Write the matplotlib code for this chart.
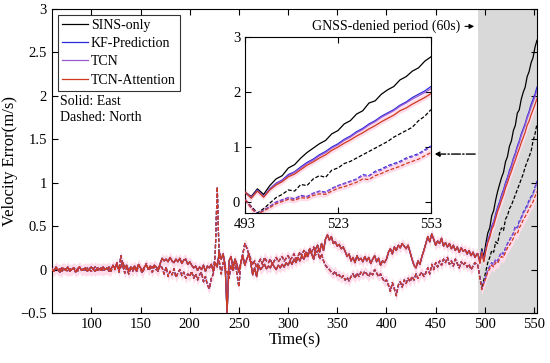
import numpy as np
import matplotlib
matplotlib.use('Agg')
import matplotlib.pyplot as plt
from matplotlib.ticker import FuncFormatter

plt.rcParams['font.family'] = ['Liberation Serif', 'DejaVu Serif']

# GNSS available (60 s .. 492 s, every 2 s): all methods share the same error
east_pre = [0.01, -0.02, 0.03, 0.00, -0.03, 0.02, 0.01, -0.01, 0.03, -0.02,
            0.00, 0.02, -0.03, 0.01, 0.03, -0.01, 0.00, 0.02, -0.02, 0.01,
            0.03, 0.00, -0.02, 0.02, 0.01, -0.01, 0.03, 0.00, 0.02, -0.02,
            0.01, 0.04, 0.02, 0.06, 0.00, 0.03, 0.08, 0.02, 0.05, -0.02,
            0.03, 0.01, 0.04, 0.00, 0.06, 0.02, -0.01, 0.03, 0.05, 0.01,
            0.04, 0.02, 0.05, 0.03, 0.00, 0.07, 0.13, 0.10, 0.12, 0.09,
            0.14, 0.10, 0.08, 0.12, 0.09, 0.13, 0.07, 0.11, 0.12, 0.06,
            0.09, 0.05, 0.02, 0.04, -0.01, 0.03, 0.00, 0.05, -0.02, 0.04,
            0.02, 0.06, -0.02, 0.08, 0.03, 0.20, 0.12, 0.18, 0.05, -0.50,
            0.10, 0.15, 0.02, 0.12, 0.06, -0.03, 0.08, 0.16, 0.05, 0.12,
            0.18, 0.08, -0.06, 0.02, -0.08, 0.05, 0.00, 0.03, 0.06, 0.01,
            0.04, 0.02, 0.07, 0.03, 0.00, 0.05, 0.02, 0.06, 0.03, 0.08,
            0.05, 0.10, 0.06, 0.12, 0.08, 0.14, 0.10, 0.16, 0.12, 0.20,
            0.15, 0.22, 0.18, 0.12, 0.24, 0.28, 0.20, 0.30, 0.22, 0.35,
            0.40, 0.34, 0.38, 0.30, 0.32, 0.27, 0.29, 0.24, 0.26, 0.21,
            0.15, 0.18, 0.10, 0.14, 0.08, 0.16, 0.11, 0.13, 0.09, 0.15,
            0.10, 0.14, 0.07, 0.12, 0.16, 0.09, 0.13, 0.05, 0.10, 0.08,
            0.12, 0.20, 0.24, 0.18, 0.26, 0.22, 0.28, 0.25, 0.30, 0.27,
            0.24, 0.28, 0.20, 0.12, 0.05, 0.02, 0.10, 0.06, 0.15, 0.22,
            0.30, 0.38, 0.32, 0.41, 0.35, 0.28, 0.33, 0.30, 0.36, 0.27,
            0.31, 0.26, 0.30, 0.24, 0.28, 0.22, 0.26, 0.20, 0.25, 0.21,
            0.23, 0.18, 0.22, 0.16, 0.20, 0.14, 0.18]
north_pre = [0.00, -0.02, 0.02, -0.01, 0.01, -0.03, 0.02, 0.00, -0.02, 0.01,
             -0.01, 0.02, 0.00, -0.02, 0.03, -0.01, 0.01, -0.02, 0.02, 0.00,
             -0.02, 0.01, 0.03, -0.01, 0.00, 0.02, -0.02, 0.01, 0.00, 0.03,
             -0.02, 0.05, 0.00, 0.08, -0.03, 0.16, 0.04, -0.04, 0.02, -0.05,
             0.01, -0.02, 0.03, -0.03, 0.05, 0.00, -0.04, 0.02, 0.07, -0.01,
             0.02, -0.03, 0.04, 0.00, -0.02, 0.05, 0.02, -0.05, 0.03, -0.08,
             -0.02, -0.06, 0.01, -0.09, -0.04, 0.00, -0.07, -0.03, -0.10, -0.05,
             -0.08, -0.02, -0.10, -0.05, -0.12, -0.06, -0.03, -0.14, -0.08, -0.18,
             -0.22, -0.10, -0.05, 0.20, 0.95, 0.10, -0.05, 0.08, 0.02, -0.03,
             -0.10, 0.05, -0.02, 0.08, -0.05, -0.20, 0.10, 0.18, 0.30, 0.25,
             0.18, 0.12, 0.05, 0.10, 0.02, 0.08, 0.12, 0.06, 0.14, 0.10,
             0.08, 0.12, 0.06, 0.10, 0.14, 0.09, 0.12, 0.15, 0.10, 0.13,
             0.16, 0.11, 0.14, 0.18, 0.12, 0.15, 0.20, 0.16, 0.22, 0.14,
             0.18, 0.24, 0.20, 0.26, 0.17, 0.22, 0.12, 0.18, 0.10, 0.05,
             0.02, 0.00, -0.03, -0.05, -0.02, -0.08, -0.06, -0.10, -0.07, -0.12,
             -0.09, -0.13, -0.08, -0.05, -0.10, -0.04, -0.08, -0.03, -0.06, -0.02,
             -0.05, -0.08, -0.03, -0.06, 0.00, -0.04, -0.08, -0.05, -0.10, -0.14,
             -0.12, -0.18, -0.25, -0.15, -0.22, -0.30, -0.18, -0.14, -0.20, -0.12,
             -0.16, -0.10, -0.14, -0.08, -0.12, -0.05, -0.10, -0.06, -0.03, -0.08,
             -0.04, 0.02, -0.05, 0.06, 0.00, 0.08, 0.03, 0.10, 0.05, 0.12,
             0.08, 0.14, 0.06, 0.10, 0.04, 0.12, 0.07, 0.02, 0.09, 0.05,
             0.08, 0.03, 0.06, 0.00, 0.04, 0.08, 0.05]

# GNSS-denied period (493 s .. 553 s, every 2 s)
sins_east = [0.18, 0.10, 0.24, 0.14, 0.30, 0.42, 0.48, 0.62, 0.68, 0.80,
             0.90, 0.98, 1.06, 1.12, 1.24, 1.30, 1.42, 1.48, 1.60, 1.66,
             1.80, 1.84, 1.96, 2.04, 2.10, 2.22, 2.28, 2.38, 2.44, 2.56, 2.64]
kf_east = [0.18, 0.08, 0.22, 0.10, 0.24, 0.34, 0.40, 0.50, 0.55, 0.64,
           0.72, 0.78, 0.86, 0.92, 1.00, 1.06, 1.14, 1.20, 1.28, 1.34,
           1.42, 1.48, 1.56, 1.62, 1.68, 1.76, 1.82, 1.90, 1.96, 2.02, 2.10]
tcn_east = [0.18, 0.08, 0.21, 0.10, 0.23, 0.33, 0.39, 0.48, 0.54, 0.62,
            0.70, 0.76, 0.84, 0.90, 0.98, 1.04, 1.12, 1.18, 1.26, 1.32,
            1.40, 1.46, 1.54, 1.60, 1.66, 1.74, 1.80, 1.87, 1.93, 1.99, 2.06]
att_east = [0.18, 0.07, 0.20, 0.09, 0.22, 0.31, 0.37, 0.46, 0.51, 0.59,
            0.67, 0.73, 0.80, 0.86, 0.94, 1.00, 1.07, 1.13, 1.20, 1.26,
            1.33, 1.39, 1.46, 1.52, 1.58, 1.66, 1.71, 1.78, 1.84, 1.90, 1.97]
sins_north = [0.05, -0.08, -0.20, -0.12, -0.02, 0.08, 0.14, 0.22, 0.20, 0.32,
              0.30, 0.42, 0.48, 0.45, 0.58, 0.62, 0.70, 0.74, 0.80, 0.86,
              0.92, 0.98, 1.04, 1.10, 1.18, 1.24, 1.30, 1.36, 1.48, 1.56, 1.68]
kf_north = [0.05, -0.10, -0.22, -0.15, -0.08, 0.00, 0.04, 0.08, 0.06, 0.12,
            0.10, 0.16, 0.20, 0.18, 0.25, 0.30, 0.34, 0.38, 0.42, 0.50,
            0.48, 0.56, 0.60, 0.66, 0.70, 0.74, 0.80, 0.84, 0.88, 0.95, 1.02]
tcn_north = [0.05, -0.10, -0.22, -0.15, -0.09, -0.01, 0.03, 0.07, 0.05, 0.11,
             0.09, 0.15, 0.19, 0.17, 0.24, 0.29, 0.33, 0.37, 0.41, 0.48,
             0.47, 0.54, 0.58, 0.64, 0.68, 0.72, 0.78, 0.82, 0.86, 0.93, 1.00]
att_north = [0.05, -0.11, -0.23, -0.16, -0.10, -0.03, 0.01, 0.05, 0.03, 0.08,
             0.07, 0.12, 0.15, 0.14, 0.20, 0.25, 0.28, 0.32, 0.36, 0.42,
             0.41, 0.48, 0.52, 0.57, 0.61, 0.65, 0.70, 0.74, 0.78, 0.84, 0.90]

labels = ['SINS-only', 'KF-Prediction', 'TCN', 'TCN-Attention']
colors = ['#000000', '#2a2ad8', '#9a5ad6', '#cf3a1e']

t_pre = 60 + 2 * np.arange(len(east_pre))
t_out = 493 + 2 * np.arange(len(sins_east))
t = np.concatenate([t_pre, t_out])
east = [np.concatenate([east_pre, s]) for s in (sins_east, kf_east, tcn_east, att_east)]
north = [np.concatenate([north_pre, s]) for s in (sins_north, kf_north, tcn_north, att_north)]

fig = plt.figure(figsize=(5.5, 3.63), dpi=100)
ax = fig.add_axes([0.0945, 0.1377, 0.8818, 0.8375])
fmt = FuncFormatter(lambda v, p: ('%g' % v).replace('-', '\u2212'))


def draw(a):
    a.fill_between(t, east[3] - 0.06, east[3] + 0.06, color='#ffdcea', lw=0, zorder=1)
    a.fill_between(t, north[3] - 0.06, north[3] + 0.06, color='#ffdcea', lw=0, zorder=1)
    for i in range(4):
        a.plot(t, north[i], '--', color=colors[i], lw=0.9, dashes=(3, 1.5), zorder=2 + i)
        a.plot(t, east[i], '-', color=colors[i], lw=0.9, label=labels[i], zorder=2.5 + i)


ax.axvspan(493, 553, color='#d9d9d9', lw=0, zorder=0)
draw(ax)
ax.set_xlim(60, 553)
ax.set_ylim(-0.5, 3)
ax.set_xticks(np.arange(100, 551, 50))
ax.set_yticks(np.arange(-0.5, 3.01, 0.5))
ax.yaxis.set_major_formatter(fmt)
ax.tick_params(direction='in', top=True, right=True, labelsize=10.5, length=4)
ax.set_xlabel('Time(s)', fontsize=12, labelpad=1)
ax.set_ylabel('Velocity Error(m/s)', fontsize=12, labelpad=2)

leg = ax.legend(loc='upper left', fontsize=10, frameon=True, fancybox=False,
                edgecolor='k', handlelength=1.9, handletextpad=0.2,
                borderpad=0.3, labelspacing=0.38, borderaxespad=0.4)
leg.get_frame().set_linewidth(0.8)

ax.text(68, 1.94, 'Solid: East', fontsize=10, va='center')
ax.text(68, 1.75, 'Dashed: North', fontsize=10, va='center')

ax.text(475, 2.80, 'GNSS-denied period (60s)', fontsize=10, ha='right', va='center')
ax.annotate('', xy=(492, 2.80), xytext=(477, 2.80),
            arrowprops=dict(arrowstyle='-|>', lw=0.8, color='k', mutation_scale=7))
ax.annotate('', xy=(446, 1.33), xytext=(493, 1.33),
            arrowprops=dict(arrowstyle='-|>', lw=1.0, color='k', ls='-.', mutation_scale=7))

ins = fig.add_axes([0.4455, 0.413, 0.338, 0.485])
draw(ins)
ins.set_xlim(493, 553)
ins.set_ylim(-0.2, 3)
ins.set_xticks([493, 523, 553])
ins.set_yticks([0, 1, 2, 3])
ins.tick_params(direction='in', top=True, right=True, labelsize=10.5, length=4)
ins.set_facecolor('white')

fig.savefig('out.png', dpi=100)
